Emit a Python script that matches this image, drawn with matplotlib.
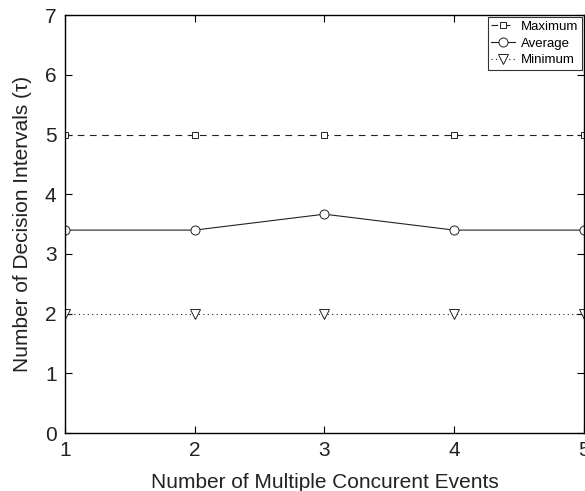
import numpy as np
import matplotlib
matplotlib.use("Agg")
import matplotlib.pyplot as plt

plt.rcParams['font.family'] = ['Liberation Sans', 'DejaVu Sans']

events = [1, 2, 3, 4, 5]
maximum = [5, 5, 5, 5, 5]
average = [3.4, 3.4, 3.667, 3.4, 3.4]
minimum = [2, 2, 2, 2, 2]

fig = plt.figure(figsize=(5.85, 4.91), dpi=100)
ax = fig.add_axes([0.111, 0.118, 0.887, 0.851])

line_kw = dict(color="#222222", linewidth=0.8, markerfacecolor="white", markeredgewidth=0.7)
ax.plot(events, maximum, linestyle=(0, (6, 5)), marker="s", markersize=5, label="Maximum", **line_kw)
ax.plot(events, average, linestyle="-", marker="o", markersize=6.5, label="Average", **line_kw)
ax.plot(events, minimum, linestyle=(0, (1, 3)), marker="v", markersize=7, label="Minimum", **line_kw)

ax.set_xlim(1, 5)
ax.set_ylim(0, 7)
ax.set_xticks(events)
ax.set_yticks(range(0, 8))
ax.tick_params(direction="in", length=5, width=0.8, top=True, right=True, labelsize=15,
               pad=6, labelcolor="#222222")
for s in ax.spines.values():
    s.set_linewidth(1.0)

ax.set_xlabel("Number of Multiple Concurent Events", fontsize=15, labelpad=9, color="#222222")
ax.set_ylabel("Number of Decision Intervals (τ)", fontsize=15, labelpad=9, color="#222222")

leg = ax.legend(loc="upper right", fontsize=9.5, frameon=True, fancybox=False,
                edgecolor="black", handlelength=1.8, handletextpad=0.5,
                borderpad=0.25, labelspacing=0.35, borderaxespad=0.15)
leg.get_frame().set_linewidth(0.8)

plt.savefig("out.png", dpi=100)
